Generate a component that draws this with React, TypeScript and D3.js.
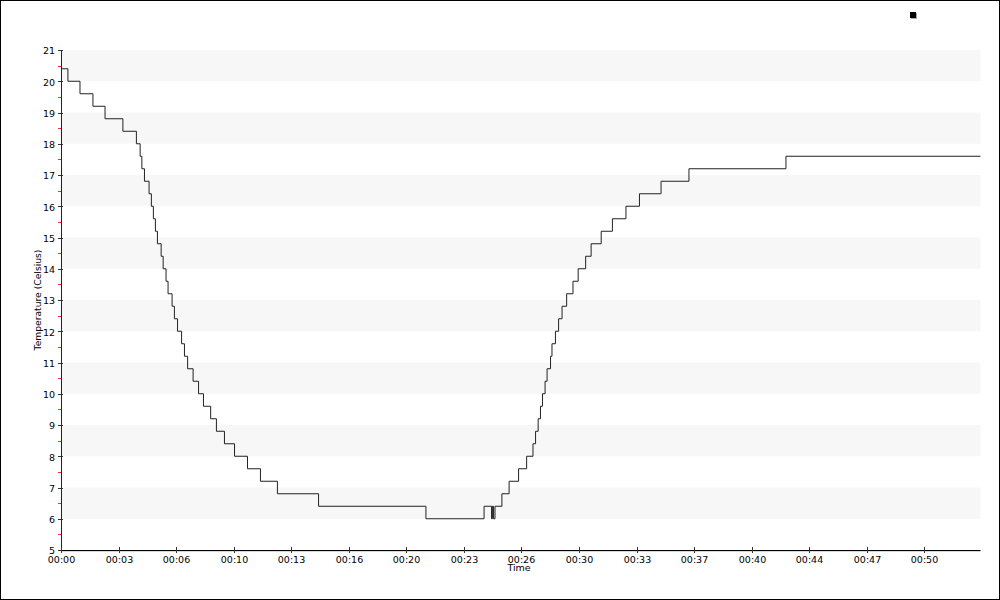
import React from "react";
import * as d3 from "d3";

// Step times (seconds) and temperature readings (Celsius)
const stepTimes = [0, 24, 66, 111, 153, 215, 262, 275, 281, 290, 306, 314, 321, 328, 335, 348, 355, 365, 372, 386, 394, 405, 419, 429, 440, 459, 478, 495, 520, 540, 568, 603, 648, 693, 752, 895, 1268, 1470, 1496, 1499, 1503, 1508, 1532, 1557, 1590, 1618, 1640, 1649, 1658, 1666, 1673, 1682, 1689, 1701, 1706, 1718, 1729, 1741, 1757, 1779, 1797, 1823, 1842, 1877, 1916, 1963, 2010, 2085, 2182, 2519, 3195];
const stepValues = [20.4, 20.0, 19.6, 19.2, 18.8, 18.4, 18.0, 17.6, 17.2, 16.8, 16.4, 16.0, 15.6, 15.2, 14.8, 14.4, 14.0, 13.6, 13.2, 12.8, 12.4, 12.0, 11.6, 11.2, 10.8, 10.4, 10.0, 9.6, 9.2, 8.8, 8.4, 8.0, 7.6, 7.2, 6.8, 6.4, 6.0, 6.4, 6.0, 6.4, 6.0, 6.4, 6.8, 7.2, 7.6, 8.0, 8.4, 8.8, 9.2, 9.6, 10.0, 10.4, 10.8, 11.2, 11.6, 12.0, 12.4, 12.8, 13.2, 13.6, 14.0, 14.4, 14.8, 15.2, 15.6, 16.0, 16.4, 16.8, 17.2, 17.6, 17.6];

const xTickLabels = ["00:00", "00:03", "00:06", "00:10", "00:13", "00:16", "00:20", "00:23", "00:26", "00:30", "00:33", "00:37", "00:40", "00:44", "00:47", "00:50"];
const xTickStep = 200; // seconds between labelled ticks
const yTicks = [5, 6, 7, 8, 9, 10, 11, 12, 13, 14, 15, 16, 17, 18, 19, 20, 21];
const xDomainEnd = 3195;

const FONT = "'DejaVu Sans', Verdana, sans-serif";

export default function App() {
  const W = 1000, H = 600;
  const left = 61, right = 980.5, top = 50, bottom = 550;
  const x = d3.scaleLinear().domain([0, xDomainEnd]).range([left, right]);
  const y = d3.scaleLinear().domain([5, 21]).range([bottom, top]);

  const data = stepTimes.map((t, i) => ({ t, v: stepValues[i] }));
  const line = d3.line<{ t: number; v: number }>()
    .x(d => x(d.t))
    .y(d => y(d.v))
    .curve(d3.curveStepAfter);

  const bands = yTicks.filter(v => v < 21 && v % 2 === 0); // 6-7, 8-9, ..., 20-21
  const halfTicks = yTicks.slice(0, -1).map(v => v + 0.5);

  return (
    <svg width={W} height={H} style={{ position: "absolute", left: 0, top: 0, background: "#fff" }}>
      <rect x={0.5} y={0.5} width={W - 1} height={H - 1} fill="#fff" stroke="#000" strokeWidth={1} />
      {bands.map(v => (
        <rect key={v} x={left} y={y(v + 1)} width={right - left} height={y(v) - y(v + 1)} fill="#f7f7f7" />
      ))}
      {/* line */}
      <path d={line(data) || ""} fill="none" stroke="#222" strokeWidth={1} />
      {/* y axis */}
      <line x1={left + 0.5} x2={left + 0.5} y1={top} y2={bottom} stroke="#222" />
      {halfTicks.map(v => (
        <line key={"h" + v} x1={58} x2={61} y1={Math.round(y(v)) + 0.5} y2={Math.round(y(v)) + 0.5} stroke="#f03030" />
      ))}
      {yTicks.map(v => (
        <g key={"y" + v}>
          <line x1={58} x2={63} y1={Math.round(y(v)) + 0.5} y2={Math.round(y(v)) + 0.5} stroke="#333" />
          <text x={55} y={y(v) + 4.3} textAnchor="end" fontFamily={FONT} fontSize={9.5} fill="#000">{v}</text>
        </g>
      ))}
      <text transform={`translate(41,300) rotate(-90)`} textAnchor="middle" fontFamily={FONT} fontSize={9.2} fill="#000">Temperature (Celsius)</text>
      {/* x axis */}
      <line x1={left} x2={right} y1={bottom + 0.5} y2={bottom + 0.5} stroke="#000" />
      <line x1={left} x2={right} y1={bottom + 1.5} y2={bottom + 1.5} stroke="#d8d8d8" />
      {xTickLabels.map((lab, i) => {
        const xv = Math.round(x(i * xTickStep)) + 0.5;
        return (
          <g key={"x" + i}>
            <line x1={xv} x2={xv} y1={bottom - 3} y2={bottom + 3} stroke="#333" />
            <text x={xv} y={562.5} textAnchor="middle" fontFamily={FONT} fontSize={9.5} fill="#000">{lab}</text>
          </g>
        );
      })}
      <text x={519} y={571} textAnchor="middle" fontFamily={FONT} fontSize={9.5} fill="#000">Time</text>
      {/* legend marker */}
      <rect x={911} y={13} width={6} height={6} fill="#aaa" />
      <rect x={910} y={12} width={6} height={6} fill="#000" />
    </svg>
  );
}
